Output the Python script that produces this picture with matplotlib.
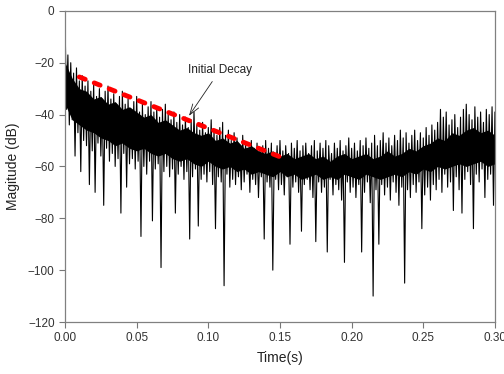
import numpy as np
import matplotlib
matplotlib.use('Agg')
import matplotlib.pyplot as plt

plt.rcParams['font.family'] = ['Liberation Sans', 'DejaVu Sans']

# sampled every 2 ms: upper and lower excursion of the decay signal (dB)
step = 0.002
peaks = [
    -3, -17, -20, -24, -22, -27, -25, -29, -27, -31,
    -28, -33, -30, -34, -31, -29, -34, -32, -36, -33,
    -31, -36, -34, -38, -35, -33, -39, -36, -40, -37,
    -35, -39, -37, -41, -38, -36, -40, -42, -39, -43,
    -40, -44, -41, -45, -42, -39, -44, -46, -43, -47,
    -45, -42, -46, -48, -45, -43, -48, -46, -50, -47,
    -49, -52, -48, -51, -53, -50, -53, -51, -54, -52,
    -50, -53, -51, -55, -52, -50, -54, -52, -55, -51,
    -53, -50, -54, -52, -51, -55, -52, -50, -54, -51,
    -53, -50, -52, -55, -51, -53, -50, -54, -52, -49,
    -53, -51, -54, -50, -52, -49, -53, -51, -48, -52,
    -50, -47, -51, -49, -52, -48, -50, -46, -49, -47,
    -51, -48, -46, -50, -47, -49, -45, -48, -44, -46,
    -43, -38, -41, -39, -44, -42, -40, -45, -41, -38,
    -36, -40, -42, -37, -41, -39, -43, -38, -40, -37, -39,
]
troughs = [
    -38, -44, -42, -56, -47, -62, -50, -52, -67, -54,
    -70, -51, -56, -75, -53, -58, -55, -60, -57, -78,
    -55, -68, -59, -57, -61, -58, -87, -60, -63, -58,
    -81, -61, -59, -99, -62, -60, -64, -61, -78, -63,
    -60, -65, -62, -88, -64, -61, -83, -65, -63, -66,
    -62, -67, -84, -64, -66, -106, -63, -68, -65, -67,
    -64, -69, -66, -63, -70, -65, -67, -72, -64, -88,
    -66, -68, -100, -65, -69, -67, -71, -64, -90, -68,
    -66, -70, -85, -67, -65, -69, -72, -89, -66, -70,
    -68, -93, -65, -71, -67, -69, -73, -97, -66, -70,
    -68, -72, -67, -93, -70, -66, -74, -110, -69, -90,
    -67, -71, -68, -73, -66, -70, -75, -68, -105, -69,
    -72, -67, -70, -66, -84, -71, -68, -73, -67, -69,
    -65, -70, -63, -68, -66, -77, -64, -69, -78, -65,
    -62, -67, -84, -63, -66, -61, -72, -65, -63, -75, -62,
]

# dense core of the signal, every 5 ms (dB)
core_step = 0.005
core_hi = [
    -20, -26, -30, -31, -34, -33, -36, -35, -38, -37,
    -39, -41, -40, -43, -42, -44, -46, -45, -47, -48,
    -47, -50, -49, -51, -50, -53, -52, -54, -55, -54,
    -56, -55, -57, -56, -55, -57, -56, -58, -56, -55,
    -57, -56, -55, -57, -56, -54, -56, -55, -53, -54,
    -52, -51, -49, -50, -47, -48, -46, -45, -47, -46, -48,
]
core_lo = [
    -36, -42, -44, -46, -47, -49, -50, -52, -51, -53,
    -54, -53, -55, -56, -55, -57, -58, -57, -59, -60,
    -58, -60, -61, -60, -62, -61, -63, -62, -63, -64,
    -62, -64, -63, -65, -64, -63, -65, -64, -65, -63,
    -64, -65, -63, -64, -65, -64, -63, -64, -62, -63,
    -61, -62, -60, -61, -60, -59, -60, -59, -58, -60, -59,
]

decay_t = [0.010, 0.151]
decay_db = [-25.5, -56.5]

xticks = [0.00, 0.05, 0.10, 0.15, 0.20, 0.25, 0.30]
yticks = [0, -20, -40, -60, -80, -100, -120]

t_peak = np.arange(len(peaks)) * step
t_trough = t_peak + step / 2
t = np.column_stack([t_peak, t_trough]).ravel()
mag = np.column_stack([peaks, troughs]).ravel()
t_core = np.arange(len(core_hi)) * core_step

fig = plt.figure(figsize=(5.04, 3.74), dpi=100)
ax = fig.add_axes([0.129, 0.139, 0.853, 0.832])

ax.fill_between(t_core, core_lo, core_hi, color='black', lw=0)
ax.plot(t, mag, color='black', lw=0.8)
ax.plot(decay_t, decay_db, color='#ff0000', lw=3.5, dashes=(1.3, 2.0),
        dash_capstyle='round', zorder=3)

ax.annotate('Initial Decay', xy=(0.0865, -40.5), xytext=(0.108, -23),
            ha='center', va='center', fontsize=8.5, color='#222222',
            arrowprops=dict(arrowstyle='->,head_length=0.9,head_width=0.3',
                            lw=0.6, color='#222222', shrinkA=2, shrinkB=0))

ax.set_xlim(0, 0.3)
ax.set_ylim(-120, 0)
ax.set_xticks(xticks)
ax.set_xticklabels(['%.2f' % v for v in xticks])
ax.set_yticks(yticks)
ax.tick_params(direction='out', length=4, width=0.8, colors='#777777',
               labelcolor='#333333', labelsize=8.5, top=False, right=False)
for s in ax.spines.values():
    s.set_color('#808080')
    s.set_linewidth(0.9)

ax.set_xlabel('Time(s)', fontsize=10, color='#222222', labelpad=5)
ax.set_ylabel('Magitude (dB)', fontsize=10, color='#222222', labelpad=6)

fig.savefig('out.png', dpi=100)
